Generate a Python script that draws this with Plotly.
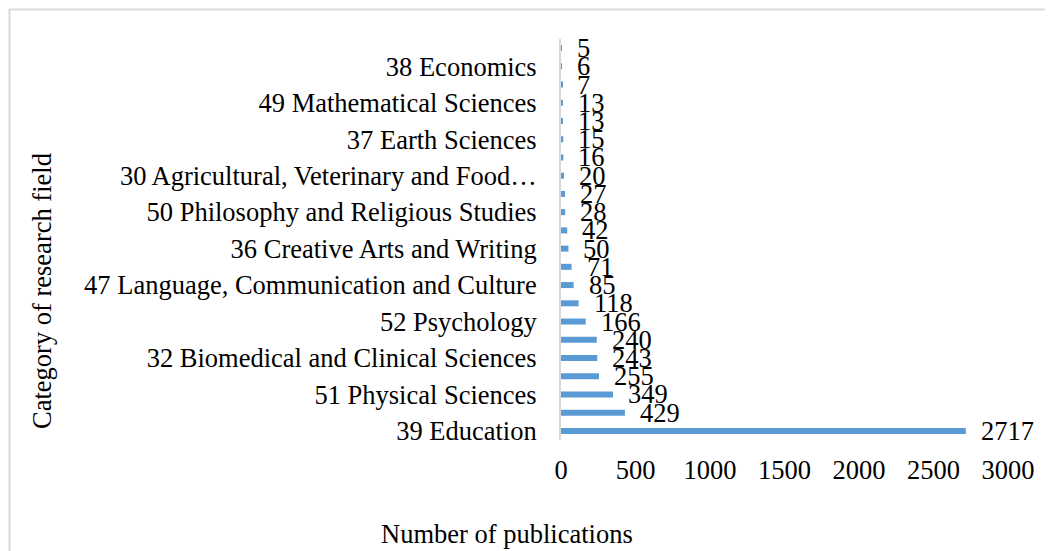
import plotly.graph_objects as go

categories = [
    "39 Education",
    "46 Information and Computing Sciences",
    "51 Physical Sciences",
    "40 Engineering",
    "32 Biomedical and Clinical Sciences",
    "44 Human Society",
    "52 Psychology",
    "42 Health Sciences",
    "47 Language, Communication and Culture",
    "35 Commerce, Management, Tourism and Services",
    "36 Creative Arts and Writing",
    "31 Biological Sciences",
    "50 Philosophy and Religious Studies",
    "41 Environmental Sciences",
    "30 Agricultural, Veterinary and Food Sciences",
    "34 Chemical Sciences",
    "37 Earth Sciences",
    "43 History, Heritage and Archaeology",
    "49 Mathematical Sciences",
    "33 Built Environment and Design",
    "38 Economics",
    "48 Law and Legal Studies",
]
values = [2717, 429, 349, 255, 243, 240, 166, 118, 85, 71, 50, 42, 28, 27, 20, 16, 15, 13, 13, 7, 6, 5]

shown_ticks = categories[0:21:2]
shown_text = [("30 Agricultural, Veterinary and Food…" if c.startswith("30 ") else c) for c in shown_ticks]
x_ticks = [0, 500, 1000, 1500, 2000, 2500, 3000]

FONT = "Liberation Serif, Times New Roman, serif"
FS = 26.5

# plot area in figure pixels
L, R, T, B = 553, 1000, 31, 432
W, H = 1053, 551


def px(x):
    return (x - L) / (R - L)


def py(y):
    return (B - y) / (B - T)


fig = go.Figure(go.Bar(
    y=categories, x=values, orientation="h",
    marker=dict(color="#5b9bd5", line=dict(width=0)),
    hoverinfo="x+y",
))

for c, v in zip(categories, values):
    fig.add_annotation(x=v, y=c, xref="x", yref="y", text=str(v), showarrow=False,
                       xanchor="left", yanchor="middle", xshift=13,
                       font=dict(family=FONT, size=FS, color="#000000"))

fig.update_layout(
    width=W, height=H,
    paper_bgcolor="white", plot_bgcolor="white",
    margin=dict(l=L, r=W - R, t=T, b=H - B, pad=0, autoexpand=False),
    bargap=0.67,
    showlegend=False,
    font=dict(family=FONT, size=FS, color="#000000"),
)
fig.update_xaxes(
    range=[0, 3000], tickvals=x_ticks, showgrid=False, zeroline=False,
    showline=False, ticks="", ticklabelstandoff=11, automargin=False,
    tickfont=dict(family=FONT, size=FS, color="#000000"),
)
fig.update_yaxes(
    categoryorder="array", categoryarray=categories,
    range=[-0.5, len(categories) - 0.5],
    tickvals=shown_ticks, ticktext=shown_text, automargin=False,
    showgrid=False, zeroline=False, showline=True, linecolor="#d9d9d9", linewidth=2,
    ticks="", ticklabelstandoff=17,
    tickfont=dict(family=FONT, size=FS, color="#000000"),
)
fig.add_annotation(text="Category of research field", xref="paper", yref="paper",
                   x=px(34), y=py(283), xanchor="center", yanchor="middle",
                   textangle=-90, showarrow=False,
                   font=dict(family=FONT, size=FS, color="#000000"))
fig.add_annotation(text="Number of publications", xref="paper", yref="paper",
                   x=px(499), y=py(526), xanchor="center", yanchor="middle",
                   showarrow=False,
                   font=dict(family=FONT, size=FS, color="#000000"))
fig.add_shape(type="rect", xref="paper", yref="paper",
              x0=px(1.5), x1=px(1100), y0=py(600), y1=py(1.5),
              line=dict(color="#d9d9d9", width=2), fillcolor="rgba(0,0,0,0)")

fig.write_html("out.html")
